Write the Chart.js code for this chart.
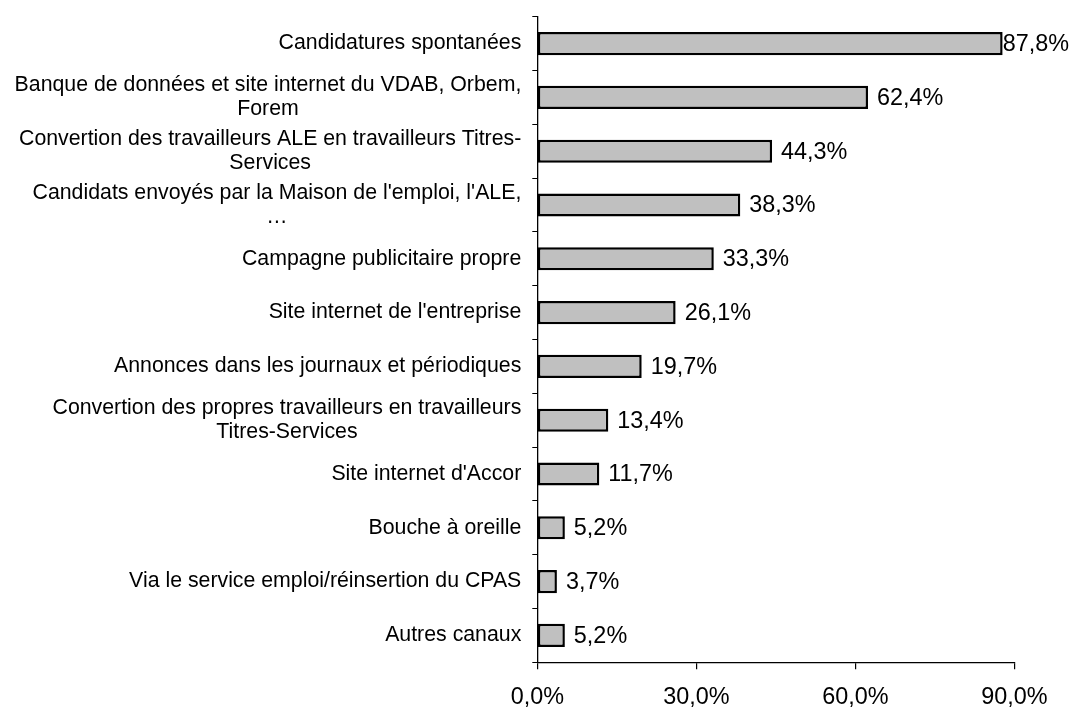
<!DOCTYPE html>
<html>
<head>
<meta charset="utf-8">
<script src="https://cdn.jsdelivr.net/npm/chart.js@4"></script>
<style>
  html, body { margin: 0; padding: 0; background: #ffffff; }
  #wrap { width: 1071px; height: 709px; }
</style>
</head>
<body>
<div id="wrap"><canvas id="chart" width="1071" height="709"></canvas></div>
<script>
// Recruitment channels (wrapped label lines) and share of companies using each
const categoryLines = [
  ["Candidatures spontanées"],
  ["Banque de données et site internet du VDAB, Orbem,", "Forem"],
  ["Convertion des travailleurs ALE en travailleurs Titres-", "Services"],
  ["Candidats envoyés par la Maison de l'emploi, l'ALE,", "…"],
  ["Campagne publicitaire propre"],
  ["Site internet de l'entreprise"],
  ["Annonces dans les journaux et périodiques"],
  ["Convertion des propres travailleurs en travailleurs", "Titres-Services"],
  ["Site internet d'Accor"],
  ["Bouche à oreille"],
  ["Via le service emploi/réinsertion du CPAS"],
  ["Autres canaux"]
];
const shareValues = [87.8, 62.4, 44.3, 38.3, 33.3, 26.1, 19.7, 13.4, 11.7, 5.2, 3.7, 5.2];
const axisTicks = [0, 30, 60, 90];

const FONT_FAMILY = "'Liberation Sans', Arial, sans-serif";
const pct = v => v.toFixed(1).replace('.', ',') + '%';

// Category labels: lines centred on each other, block right-aligned against the axis
const categoryLabelPlugin = {
  id: 'categoryLabels',
  afterDraw(chart) {
    const ctx = chart.ctx;
    const yScale = chart.scales.y;
    const rightEdge = chart.chartArea.left - 16;
    const lineHeight = 24;
    ctx.save();
    ctx.font = "21.3px " + FONT_FAMILY;
    ctx.fillStyle = '#000';
    ctx.textAlign = 'center';
    ctx.textBaseline = 'middle';
    categoryLines.forEach((lines, i) => {
      const yc = yScale.getPixelForValue(i);
      const maxW = Math.max(...lines.map(l => ctx.measureText(l).width));
      const xc = rightEdge - maxW / 2;
      const y0 = yc - (lines.length - 1) * lineHeight / 2;
      lines.forEach((l, k) => ctx.fillText(l, xc, y0 + k * lineHeight));
    });
    ctx.restore();
  }
};

// Value labels to the right of each bar, kept inside the canvas
const valueLabelPlugin = {
  id: 'valueLabels',
  afterDatasetsDraw(chart) {
    const ctx = chart.ctx;
    const meta = chart.getDatasetMeta(0);
    ctx.save();
    ctx.font = "23.4px " + FONT_FAMILY;
    ctx.fillStyle = '#000';
    ctx.textAlign = 'left';
    ctx.textBaseline = 'middle';
    meta.data.forEach((bar, i) => {
      const txt = pct(shareValues[i]);
      const w = ctx.measureText(txt).width;
      const x = Math.min(bar.x + 9, chart.width - w - 2);
      ctx.fillText(txt, x, bar.y + 1);
    });
    ctx.restore();
  }
};

new Chart(document.getElementById('chart'), {
  type: 'bar',
  data: {
    labels: categoryLines.map(l => l.join(' ')),
    datasets: [{
      data: shareValues,
      backgroundColor: '#c0c0c0',
      borderColor: '#000000',
      borderWidth: 2.5,
      borderSkipped: false,
      categoryPercentage: 1,
      barPercentage: 0.43
    }]
  },
  options: {
    indexAxis: 'y',
    responsive: false,
    animation: false,
    events: [],
    layout: { padding: { top: 16.7, right: 56.7, bottom: 0, left: 0 } },
    plugins: {
      legend: { display: false },
      tooltip: { enabled: false }
    },
    scales: {
      x: {
        type: 'linear',
        min: 0,
        max: 90,
        afterBuildTicks: s => { s.ticks = axisTicks.map(v => ({ value: v })); },
        afterFit: s => { s.height = 46.7; },
        ticks: {
          callback: v => pct(v),
          font: { family: FONT_FAMILY, size: 23.4 },
          color: '#000',
          padding: 14,
          maxRotation: 0
        },
        grid: {
          drawOnChartArea: false,
          drawTicks: true,
          tickLength: 7,
          color: '#000',
          lineWidth: 1.2
        },
        border: { display: true, color: '#000', width: 1.3 }
      },
      y: {
        type: 'category',
        afterFit: s => { s.width = 537.3; },
        ticks: { display: false },
        grid: {
          offset: true,
          drawOnChartArea: false,
          drawTicks: true,
          tickLength: 5,
          color: '#000',
          lineWidth: 1
        },
        border: { display: true, color: '#000', width: 1.3 }
      }
    }
  },
  plugins: [categoryLabelPlugin, valueLabelPlugin]
});
</script>
</body>
</html>
